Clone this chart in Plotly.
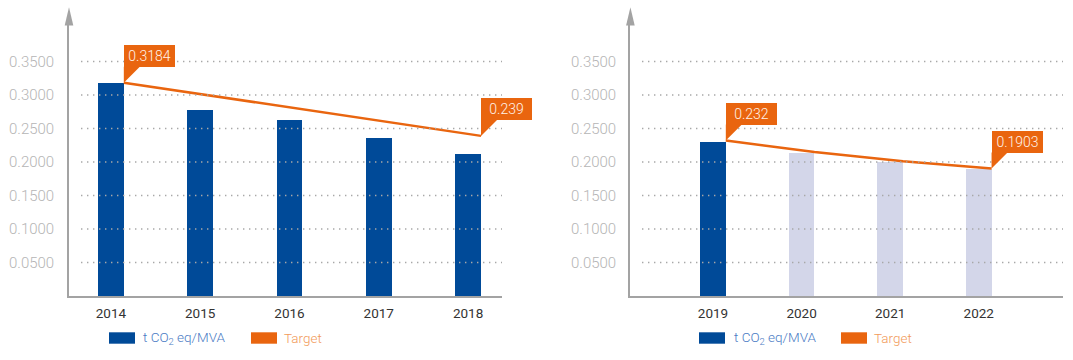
import plotly.graph_objects as go

# ---------------- data ----------------
years_a = ["2014", "2015", "2016", "2017", "2018"]
co2_a = [0.318, 0.278, 0.263, 0.236, 0.212]
target_a = [0.3184, None, None, None, 0.239]

years_b = ["2019", "2020", "2021", "2022"]
co2_b = [0.230, 0.214, 0.200, 0.189]
target_b = [0.232, 0.215, 0.201, 0.1903]
is_actual_b = [True, False, False, False]

y_ticks = [0.05, 0.10, 0.15, 0.20, 0.25, 0.30, 0.35]
y_tick_text = ["0.0500", "0.1000", "0.1500", "0.2000", "0.2500", "0.3000", "0.3500"]

legend_labels = ["t CO<sub>2</sub> eq/MVA", "Target"]

# ---------------- style ----------------
W, H = 1073, 360
BLUE = "#004A98"
LIGHT = "#D3D6E9"
ORANGE = "#E9650F"
AXIS = "#A3A3A3"
GRID = "#A8A8A8"
FONT = "Roboto"
BAR_W = 0.29
Y_MAX = 0.4045


def px(x):
    return x / W


def py(y):
    return 1 - y / H


fig = go.Figure()

# Bars
fig.add_trace(go.Bar(x=list(range(len(years_a))), y=co2_a, width=BAR_W,
                     marker=dict(color=BLUE, line=dict(width=0)),
                     xaxis="x", yaxis="y", name="t CO2 eq/MVA"))
fig.add_trace(go.Bar(x=list(range(len(years_b))), y=co2_b, width=BAR_W,
                     marker=dict(color=[BLUE if a else LIGHT for a in is_actual_b],
                                 line=dict(width=0)),
                     xaxis="x2", yaxis="y2", name="t CO2 eq/MVA"))

# Target lines (points at bar right edges)
xa_t = [i + BAR_W / 2 for i in range(len(years_a))]
xb_t = [i + BAR_W / 2 for i in range(len(years_b))]
fig.add_trace(go.Scatter(x=xa_t, y=target_a, mode="lines", connectgaps=True,
                         line=dict(color=ORANGE, width=2.5),
                         xaxis="x", yaxis="y", name="Target"))
fig.add_trace(go.Scatter(x=xb_t, y=target_b, mode="lines", connectgaps=True,
                         line=dict(color=ORANGE, width=2.5),
                         xaxis="x2", yaxis="y2", name="Target"))

shapes = []
annotations = []

panels = [
    dict(xr="x", yr="y", ax=69, end=502, gs=81, lab=7.3,
         leg=(109, 141, 251, 281.7)),
    dict(xr="x2", yr="y2", ax=630.4, end=1063, gs=642, lab=568.9,
         leg=(699, 731.7, 841, 871.7)),
]

for p in panels:
    # dotted gridlines (drawn over bars)
    for t in y_ticks:
        shapes.append(dict(type="line", xref="paper", yref=p["yr"],
                           x0=px(p["gs"]), x1=px(p["end"]), y0=t, y1=t,
                           line=dict(color=GRID, width=1.4, dash="1.4px,4.6px"),
                           layer="above"))
    # y tick labels (left aligned)
    for t, s in zip(y_ticks, y_tick_text):
        annotations.append(dict(text=s, xref="paper", yref=p["yr"], x=px(p["lab"]), y=t,
                                xanchor="left", yanchor="middle", showarrow=False,
                                font=dict(family=FONT, size=15, color="#B5B5B5", weight=300)))
    # arrow head on y axis
    a = p["ax"]
    shapes.append(dict(type="path", xref="paper", yref="paper",
                       path=f"M {px(a)},{py(7.3)} L {px(a - 4.3)},{py(25.5)} L {px(a + 4.3)},{py(25.5)} Z",
                       fillcolor=AXIS, line=dict(width=0), layer="above"))
    # legend
    b1, t1, b2, t2 = p["leg"]
    shapes.append(dict(type="rect", xref="paper", yref="paper",
                       x0=px(b1), x1=px(b1 + 26), y0=py(343.7), y1=py(332.3),
                       fillcolor=BLUE, line=dict(width=0)))
    shapes.append(dict(type="rect", xref="paper", yref="paper",
                       x0=px(b2), x1=px(b2 + 26), y0=py(343.7), y1=py(332.3),
                       fillcolor=ORANGE, line=dict(width=0)))
    annotations.append(dict(text=legend_labels[0], xref="paper", yref="paper",
                            x=px(t1), y=py(338), xanchor="left", yanchor="middle",
                            showarrow=False,
                            font=dict(family=FONT, size=13.5, color="#4A7BC4", weight=300)))
    annotations.append(dict(text=legend_labels[1], xref="paper", yref="paper",
                            x=px(t2), y=py(338), xanchor="left", yanchor="middle",
                            showarrow=False,
                            font=dict(family=FONT, size=13.5, color="#F29A5A", weight=300)))


def callout(xref, yref, xv, yv):
    # tail drawn in pixels relative to the data point
    shapes.append(dict(type="path", xref=xref, yref=yref,
                       xsizemode="pixel", ysizemode="pixel",
                       xanchor=xv, yanchor=yv,
                       path="M 0,0 L 0,16 L 16,16 Z",
                       fillcolor=ORANGE, line=dict(width=0), layer="above"))
    # box (annotation background, not clipped by the plot area)
    annotations.append(dict(text=str(yv), xref=xref, yref=yref, x=xv, y=yv,
                            xanchor="left", yanchor="bottom", yshift=15.5,
                            showarrow=False, width=51, height=22,
                            borderpad=0, borderwidth=0, bgcolor=ORANGE,
                            font=dict(family=FONT, size=14, color="#FFF3EA", weight=300)))


callout("x", "y", xa_t[0], target_a[0])
callout("x", "y", xa_t[-1], target_a[-1])
callout("x2", "y2", xb_t[0], target_b[0])
callout("x2", "y2", xb_t[-1], target_b[-1])

xcommon = dict(showgrid=False, zeroline=False, showline=True, linecolor=AXIS, linewidth=2,
               ticks="", tickmode="array", ticklabelstandoff=4,
               tickfont=dict(family=FONT, size=13.5, color="#333333"))
ycommon = dict(showgrid=False, zeroline=False, showline=True, linecolor=AXIS, linewidth=2,
               showticklabels=False, ticks="", range=[0, Y_MAX],
               domain=[py(296), py(25)])

fig.update_layout(
    width=W, height=H,
    margin=dict(l=0, r=0, t=0, b=0),
    paper_bgcolor="white", plot_bgcolor="rgba(0,0,0,0)",
    showlegend=False,
    hovermode=False,
    bargap=0,
    xaxis=dict(**xcommon, domain=[px(69), px(502)], range=[-0.469, 4.380],
               tickvals=list(range(len(years_a))), ticktext=years_a, anchor="y"),
    yaxis=dict(**ycommon, anchor="x"),
    xaxis2=dict(**xcommon, domain=[px(630.4), px(1063)], range=[-0.932, 3.951],
                tickvals=list(range(len(years_b))), ticktext=years_b, anchor="y2"),
    yaxis2=dict(**ycommon, anchor="x2"),
    shapes=shapes,
    annotations=annotations,
)

fig.write_html("out.html", config={"displayModeBar": False, "staticPlot": True},
               post_script="document.body.style.margin='0px';document.body.style.padding='0px';")
